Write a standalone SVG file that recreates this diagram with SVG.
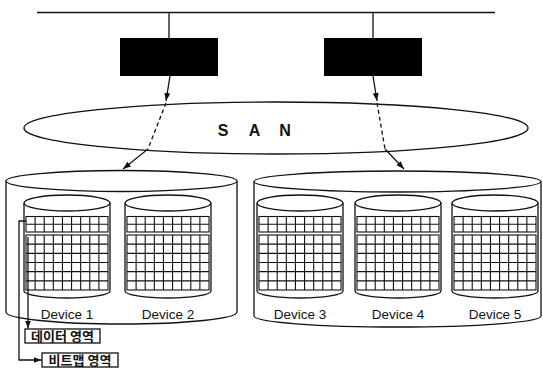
<svg xmlns="http://www.w3.org/2000/svg" xmlns:xlink="http://www.w3.org/1999/xlink" width="543" height="370" viewBox="0 0 543 370">
  <style>
    .ln { fill: none; stroke: #111; stroke-width: 1.3; }
    .dash { fill: none; stroke: #111; stroke-width: 1.3; stroke-dasharray: 4 3; }
    .shape { fill: #fff; stroke: #111; stroke-width: 1.3; }
    .grid { fill: none; stroke: #111; stroke-width: 1.1; }
    .host { fill: #000; }
    .lbl { font-family: "Liberation Sans", Arial, sans-serif; font-size: 13.5px; fill: #111; text-anchor: middle; }
    .san { font-family: "Liberation Sans", Arial, sans-serif; font-size: 16px; font-weight: bold; fill: #111; text-anchor: middle; }
    .kr { font-family: "Noto Sans CJK KR", "Liberation Sans", sans-serif; font-size: 13px; font-weight: bold; fill: #111; text-anchor: middle; }
  </style>
  <defs>
    <marker id="arrow" viewBox="0 0 8 6" refX="8" refY="3" markerWidth="8" markerHeight="6" markerUnits="userSpaceOnUse" orient="auto">
      <path d="M0,0 L8,3 L0,6 Z" fill="#111"/>
    </marker>
    <!-- one storage device: small cylinder with bitmap band and data grid -->
    <g id="dev">
      <path class="shape" d="M0,203 V291 A43,7 0 0 0 86,291 V203"/>
      <ellipse class="shape" cx="43" cy="203" rx="43" ry="8"/>
      <rect class="grid" x="2" y="216.5" width="82" height="15.5"/>
      <path class="grid" d="M2,224.25 H84 M11.11,216.5 V232 M20.22,216.5 V232 M29.33,216.5 V232 M38.44,216.5 V232 M47.56,216.5 V232 M56.67,216.5 V232 M65.78,216.5 V232 M74.89,216.5 V232"/>
      <rect class="grid" x="2" y="235" width="82" height="55"/>
      <path class="grid" d="M2,244.17 H84 M2,253.33 H84 M2,262.5 H84 M2,271.67 H84 M2,280.83 H84 M11.11,235 V290 M20.22,235 V290 M29.33,235 V290 M38.44,235 V290 M47.56,235 V290 M56.67,235 V290 M65.78,235 V290 M74.89,235 V290"/>
    </g>
  </defs>

  <!-- network bus -->
  <g id="bus">
    <path class="ln" d="M37,12.5 H495" stroke-width="1.6"/>
  </g>

  <!-- hosts -->
  <g id="host1">
    <path class="ln" d="M169,12.5 V38"/>
    <rect class="host" x="120" y="38" width="98" height="38"/>
  </g>
  <g id="host2">
    <path class="ln" d="M373,12.5 V38"/>
    <rect class="host" x="324" y="38" width="98" height="38"/>
  </g>

  <!-- SAN -->
  <g id="san">
    <ellipse class="shape" cx="276" cy="128" rx="252" ry="26"/>
    <text class="san" y="136"><tspan x="223">S</tspan><tspan x="254.5">A</tspan><tspan x="285">N</tspan></text>
  </g>

  <!-- storage subsystem A -->
  <g id="storageA">
    <path class="shape" d="M6,181 V312 A115.5,12 0 0 0 237,312 V181"/>
    <ellipse class="shape" cx="121.5" cy="181" rx="115.5" ry="10.5"/>
  </g>
  <!-- storage subsystem B -->
  <g id="storageB">
    <path class="shape" d="M254,181.5 V316 A143.5,11 0 0 0 541,316 V181.5"/>
    <ellipse class="shape" cx="397.5" cy="181.5" rx="143.5" ry="10.5"/>
  </g>

  <g id="device1">
    <use xlink:href="#dev" x="24"/>
    <text class="lbl" x="67" y="319">Device 1</text>
  </g>
  <g id="device2">
    <use xlink:href="#dev" x="125"/>
    <text class="lbl" x="168" y="319">Device 2</text>
  </g>
  <g id="device3">
    <use xlink:href="#dev" x="257"/>
    <text class="lbl" x="300" y="319">Device 3</text>
  </g>
  <g id="device4">
    <use xlink:href="#dev" x="355"/>
    <text class="lbl" x="398" y="319">Device 4</text>
  </g>
  <g id="device5">
    <use xlink:href="#dev" x="452"/>
    <text class="lbl" x="495" y="319">Device 5</text>
  </g>

  <!-- area labels -->
  <g id="dataArea">
    <rect class="shape" x="25" y="329" width="75" height="14"/>
    <text class="kr" x="62.5" y="341">데이터 영역</text>
  </g>
  <g id="bitmapArea">
    <rect class="shape" x="42" y="353" width="76" height="14"/>
    <text class="kr" x="80" y="365">비트맵 영역</text>
  </g>

  <!-- connectors -->
  <g id="connectors">
    <path class="ln" d="M170,76 L166,101" marker-end="url(#arrow)"/>
    <path class="dash" d="M166,103 L148,149"/>
    <path class="ln" d="M148,149 L123,169" marker-end="url(#arrow)"/>
    <path class="ln" d="M373,76 L377,101" marker-end="url(#arrow)"/>
    <path class="dash" d="M377,103 L385,149"/>
    <path class="ln" d="M385,149 L404,169" marker-end="url(#arrow)"/>
    <path class="ln" d="M28,237 V328.5" marker-end="url(#arrow)"/>
    <path class="ln" d="M26,221 H19 V360 H41.5" marker-end="url(#arrow)"/>
  </g>
</svg>
